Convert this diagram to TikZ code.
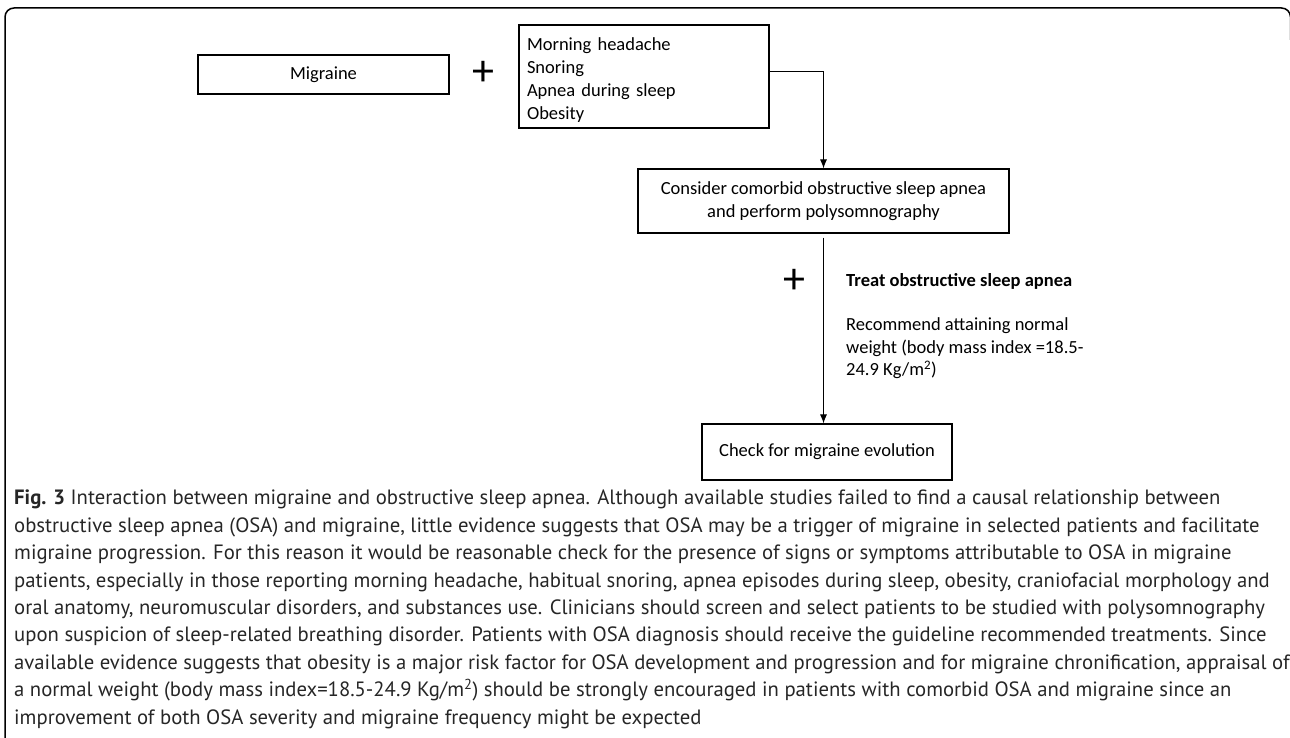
\documentclass[tikz,border=0pt]{standalone}
\usepackage{fontspec}
\setmainfont{Carlito}
\newfontfamily\capfont{PT Sans}
\usetikzlibrary{arrows.meta}

\begin{document}
\begin{tikzpicture}[x=1pt,y=-1pt,>={Latex[length=9pt,width=7pt]},
      box node/.style={rectangle,draw,line width=1.1pt,font=\fontsize{18.5}{23}\selectfont},
      plus node/.style={font=\fontsize{44}{44}\selectfont,inner sep=0pt},
      side node/.style={inner sep=0pt,align=left,font=\fontsize{18.5}{22.5}\selectfont},
      cap node/.style={inner sep=0pt,align=left,text=black!85,font=\capfont\fontsize{20.7}{27.4}\selectfont}]

      \useasboundingbox (0,0) rectangle (1290,738);
      \draw[line width=1.5pt,rounded corners=9pt] (5,745) -- (5,8) -- (1290.5,8) -- (1290.5,40);

      \node[box node,minimum width=251pt,minimum height=39pt] (migraine) at (323.5,74.5) {Migraine};
      \node[plus node] (plus1) at (483,73) {+};
      \node[box node,minimum width=250pt,minimum height=103pt,text width=234pt,align=left] (signs) at (644,76.5)
        {\rule{0pt}{20pt}Morning headache\\Snoring\\Apnea during sleep\\Obesity};
      \node[box node,minimum width=371pt,minimum height=64pt,align=center] (osa) at (823.5,201)
        {Consider comorbid obstructive sleep apnea\\and perform polysomnography};
      \node[plus node] (plus2) at (794,281) {+};
      \node[side node,anchor=west] (treat) at (846,281) {\textbf{Treat obstructive sleep apnea}};
      \node[side node,anchor=north west] (weight) at (846,317.5)
        {Recommend attaining normal\\weight (body mass index =18.5-\\24.9 Kg/m\textsuperscript{2})};
      \node[box node,minimum width=250pt,minimum height=56pt] (check) at (827,452) {Check for migraine evolution};

      \draw[->,line width=1pt] ([yshift=4.5pt]signs.east) -| (osa.north);
      \draw[->,line width=1pt,shorten <=4pt] (osa.south) -- (osa.south |- check.north);

      \node[cap node,anchor=north west] (caption) at (14,490)
        {\textbf{Fig. 3} Interaction between migraine and obstructive sleep apnea. Although available studies failed to find a causal relationship between\\
        obstructive sleep apnea (OSA) and migraine, little evidence suggests that OSA may be a trigger of migraine in selected patients and facilitate\\
        migraine progression. For this reason it would be reasonable check for the presence of signs or symptoms attributable to OSA in migraine\\
        patients, especially in those reporting morning headache, habitual snoring, apnea episodes during sleep, obesity, craniofacial morphology and\\
        oral anatomy, neuromuscular disorders, and substances use. Clinicians should screen and select patients to be studied with polysomnography\\
        upon suspicion of sleep-related breathing disorder. Patients with OSA diagnosis should receive the guideline recommended treatments. Since\\
        available evidence suggests that obesity is a major risk factor for OSA development and progression and for migraine chronification, appraisal of\\
        a normal weight (body mass index=18.5-24.9 Kg/m\textsuperscript{2}) should be strongly encouraged in patients with comorbid OSA and migraine since an\\
        improvement of both OSA severity and migraine frequency might be expected};
\end{tikzpicture}
\end{document}
